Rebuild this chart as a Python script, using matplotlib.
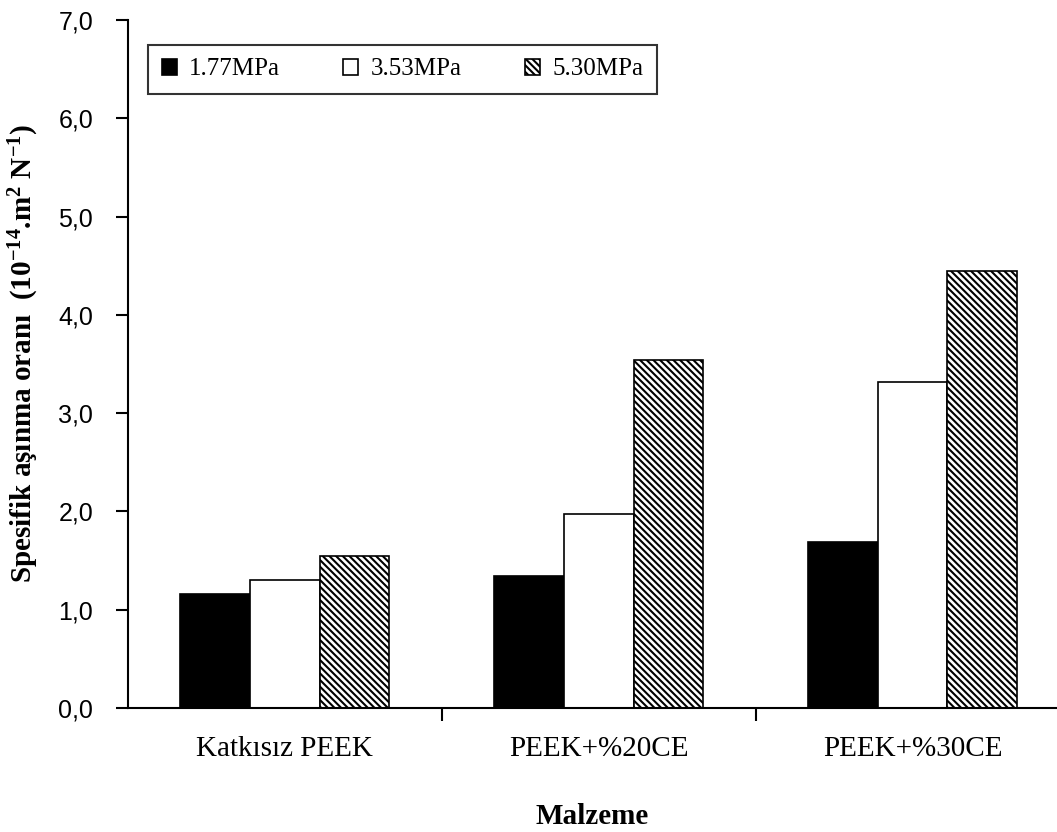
import matplotlib.pyplot as plt
import numpy as np

# veriler
malzemeler = ["Katkısız PEEK", "PEEK+%20CE", "PEEK+%30CE"]
basinclar = ["1.77MPa", "3.53MPa", "5.30MPa"]
p177 = [1.16, 1.34, 1.69]
p353 = [1.30, 1.97, 3.32]
p530 = [1.55, 3.54, 4.45]
y_ticks = [0.0, 1.0, 2.0, 3.0, 4.0, 5.0, 6.0, 7.0]

plt.rcParams['hatch.linewidth'] = 1.5
plt.rcParams['mathtext.fontset'] = 'custom'
plt.rcParams['mathtext.rm'] = 'Liberation Serif:bold'
plt.rcParams['mathtext.it'] = 'Liberation Serif:bold'


def draw_bars():
    fig = plt.figure(figsize=(10.57, 8.32), dpi=100)
    ax = fig.add_axes([0.121, 0.149, 0.879, 0.827])

    x = np.arange(len(malzemeler))
    w = 0.222
    ax.bar(x - w, p177, w, color="black", edgecolor="black", linewidth=1.2, label=basinclar[0])
    ax.bar(x, p353, w, color="white", edgecolor="black", linewidth=1.2, label=basinclar[1])
    ax.bar(x + w, p530, w, color="white", edgecolor="black", linewidth=1.2,
           hatch="\\\\\\\\\\", label=basinclar[2])

    ax.set_xlim(-0.5, 2.46)
    ax.set_ylim(0, 7)

    # eksenler
    for s in ["top", "right"]:
        ax.spines[s].set_visible(False)
    ax.spines["left"].set_linewidth(1.5)
    ax.spines["bottom"].set_linewidth(1.5)

    ax.set_yticks(y_ticks)
    ax.set_yticklabels([("%.1f" % v).replace(".", ",") for v in y_ticks],
                       fontfamily="Liberation Sans", fontsize=18)
    ax.tick_params(axis="y", direction="out", length=9, width=1.5, pad=16)

    ax.set_xticks(x)
    ax.set_xticklabels(malzemeler, fontfamily="Liberation Serif", fontsize=21)
    ax.tick_params(axis="x", which="major", length=0, pad=20)
    ax.set_xticks([0.5, 1.5], minor=True)
    ax.tick_params(axis="x", which="minor", direction="out", length=9, width=1.5)

    ax.set_xlabel("Malzeme", fontfamily="Liberation Serif", fontweight="bold",
                  fontsize=21, labelpad=30)
    ax.set_ylabel("Spesifik aşınma oranı  (10$^{-14}$.m$^{2}$ N$^{-1}$)",
                  fontfamily="Liberation Serif", fontweight="bold", fontsize=21)
    ax.yaxis.set_label_coords(-0.093, 0.515)

    leg = ax.legend(loc="upper left", bbox_to_anchor=(0.0215, 0.894, 0.548, 0.07),
                    mode="expand", borderaxespad=0,
                    ncol=3, frameon=True, fancybox=False,
                    prop={"family": "Liberation Serif", "size": 18},
                    handlelength=0.6, handleheight=0.6, handletextpad=0.5,
                    borderpad=0.55)
    leg.get_frame().set_edgecolor("black")
    leg.get_frame().set_linewidth(1.5)

    fig.savefig("out.png", dpi=100)


if __name__ == "__main__":
    draw_bars()
